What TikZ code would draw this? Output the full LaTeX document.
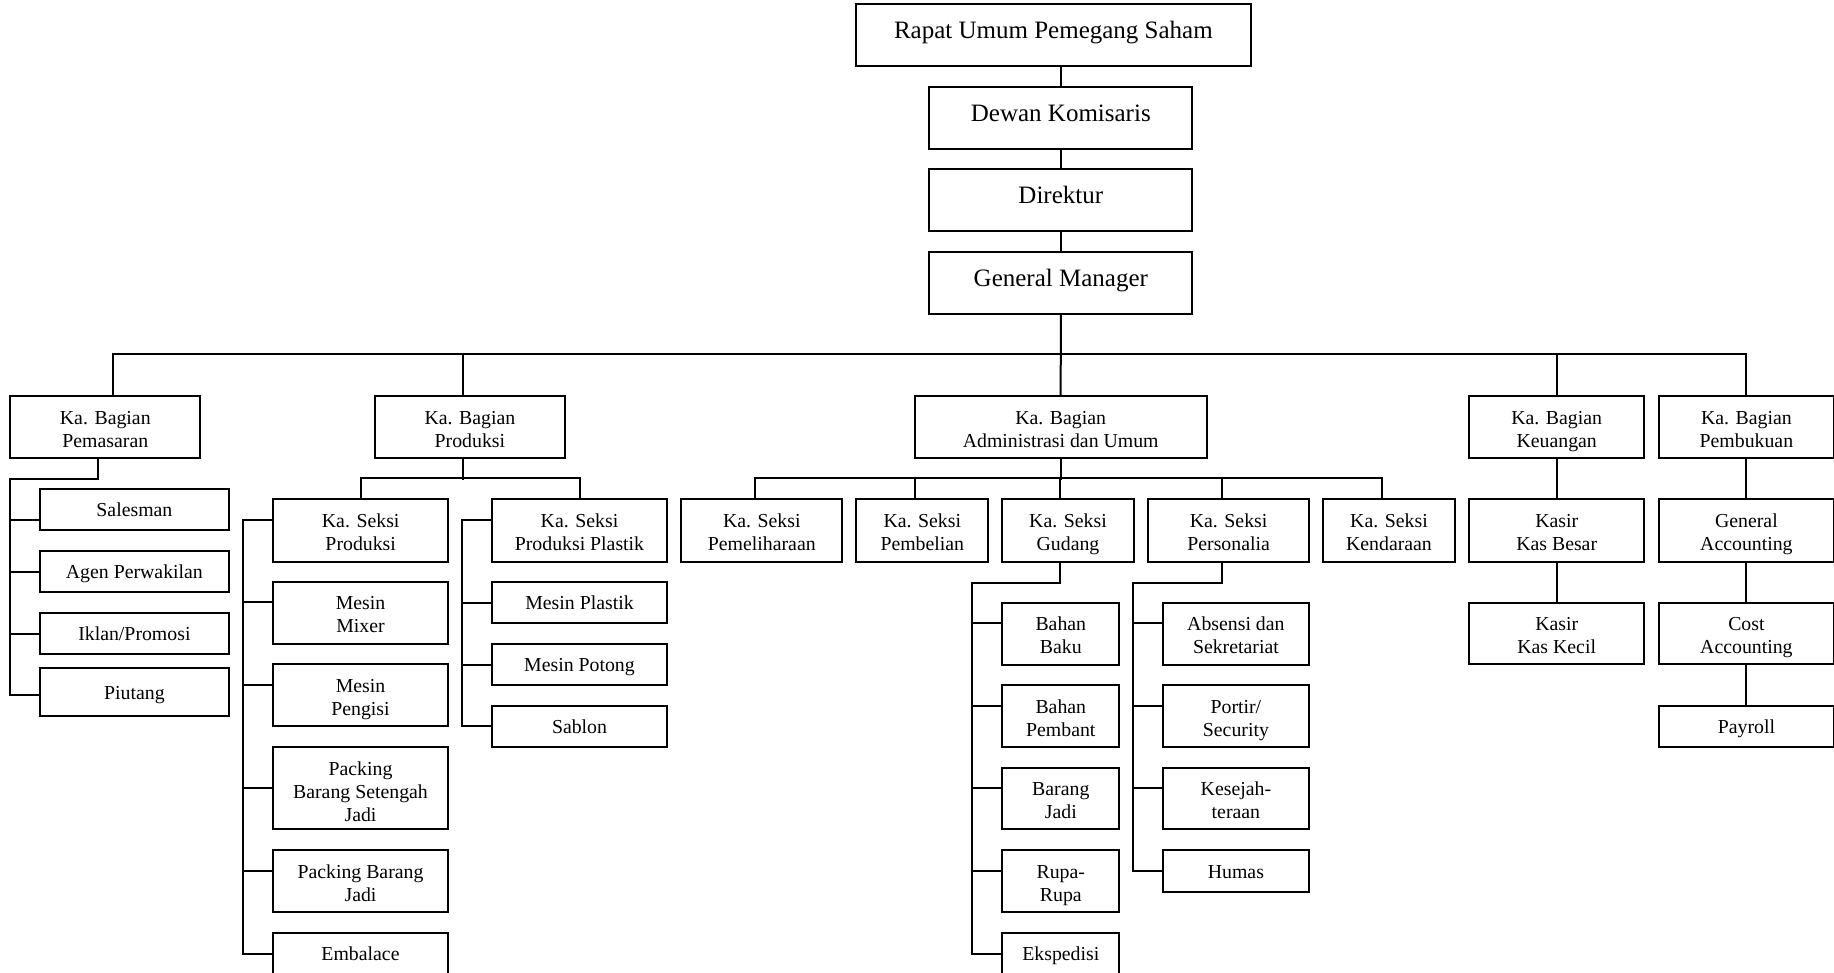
\documentclass[tikz,border=0pt]{standalone}
\usepackage{fontspec}
\setmainfont{Liberation Serif}
\newcommand{\ml}[1]{\vbox{\halign{\hfil##\hfil\cr#1\crcr}}}
\begin{document}
\begin{tikzpicture}[x=1pt,y=-1pt,
  box/.style={draw, line width=2pt, inner sep=0pt,
    font=\fontsize{19.8}{23}\selectfont, text height=19pt, text depth=4.5pt},
  l2/.style={text height=44.5pt, text depth=4.5pt},
  l3/.style={text height=72pt, text depth=4.5pt},
  topbox/.style={draw, line width=2pt, inner sep=0pt,
    font=\fontsize{25}{29}\selectfont, text height=19.5pt, text depth=12pt},
  conn/.style={line width=2pt, line cap=rect}]
\useasboundingbox (0,0) rectangle (1834,973);

% top chain
\node[topbox, minimum width=394.7, minimum height=62] (R) at (1053.4,35) {Rapat Umum Pemegang Saham};
\node[topbox, minimum width=263, minimum height=62] (Dw) at (1060.8,117.7) {Dewan Komisaris};
\node[topbox, minimum width=263, minimum height=62] (Dir) at (1060.8,200.2) {Direktur};
\node[topbox, minimum width=263, minimum height=62] (GM) at (1060.8,282.7) {General Manager};

% level 2
\node[box, l2, minimum width=190, minimum height=62.3] (Pem) at (105.3,427.2) {\ml{Ka. Bagian\cr Pemasaran}};
\node[box, l2, minimum width=189.7, minimum height=62.3] (Prod) at (469.9,427.2) {\ml{Ka. Bagian\cr Produksi}};
\node[box, l2, minimum width=292.4, minimum height=62.3] (Adm) at (1060.7,427.2) {\ml{Ka. Bagian\cr Administrasi dan Umum}};
\node[box, l2, minimum width=175.3, minimum height=62.3] (Keu) at (1556.7,427.2) {\ml{Ka. Bagian\cr Keuangan}};
\node[box, l2, minimum width=174.6, minimum height=62.3] (Pbk) at (1746.4,427.2) {\ml{Ka. Bagian\cr Pembukuan}};

% Pemasaran children
\node[box, minimum width=189.8, minimum height=41.6] (Sal) at (134.4,509.5) {Salesman};
\node[box, minimum width=189.8, minimum height=41.3] (Agn) at (134.4,571.7) {Agen Perwakilan};
\node[box, minimum width=189.8, minimum height=41.6] (Ikl) at (134.4,633.5) {Iklan/Promosi};
\node[box, minimum width=189.8, minimum height=48.3] (Piu) at (134.4,691.9) {Piutang};

% Produksi
\node[box, l2, minimum width=175, minimum height=62.4] (KSP) at (360.7,530.5) {\ml{Ka. Seksi\cr Produksi}};
\node[box, l2, minimum width=175.9, minimum height=62.4] (KSPP) at (579.5,530.5) {\ml{Ka. Seksi\cr Produksi Plastik}};
\node[box, l2, minimum width=175.4, minimum height=62.3] (Mix) at (360.5,612.9) {\ml{Mesin\cr Mixer}};
\node[box, l2, minimum width=175.4, minimum height=61.7] (Pen) at (360.5,695.2) {\ml{Mesin\cr Pengisi}};
\node[box, l3, minimum width=175.4, minimum height=82.3] (PBSJ) at (360.5,788.2) {\ml{Packing\cr Barang Setengah\cr Jadi}};
\node[box, l2, minimum width=175.4, minimum height=61.7] (PBJ) at (360.5,881.2) {\ml{Packing Barang\cr Jadi}};
\node[box, minimum width=175.4, minimum height=41.6] (Emb) at (360.5,953.5) {Embalace};
\node[box, minimum width=175.9, minimum height=41.6] (MPl) at (579.5,602.5) {Mesin Plastik};
\node[box, minimum width=175.9, minimum height=41.3] (MPo) at (579.5,664.7) {Mesin Potong};
\node[box, minimum width=175.9, minimum height=41.3] (Sab) at (579.5,726.3) {Sablon};

% Administrasi
\node[box, l2, minimum width=160.7, minimum height=62.4] (Pml) at (761.8,530.5) {\ml{Ka. Seksi\cr Pemeliharaan}};
\node[box, l2, minimum width=131.7, minimum height=62.4] (Pbl) at (922.3,530.5) {\ml{Ka. Seksi\cr Pembelian}};
\node[box, l2, minimum width=131.3, minimum height=62.4] (Gdg) at (1068,530.5) {\ml{Ka. Seksi\cr Gudang}};
\node[box, l2, minimum width=160.3, minimum height=62.4] (Psn) at (1228.6,530.5) {\ml{Ka. Seksi\cr Personalia}};
\node[box, l2, minimum width=131.4, minimum height=62.4] (Kdr) at (1389,530.5) {\ml{Ka. Seksi\cr Kendaraan}};

\node[box, l2, minimum width=117, minimum height=62.3] (Bku) at (1060.8,633.9) {\ml{Bahan\cr Baku}};
\node[box, l2, minimum width=117, minimum height=62] (Bpb) at (1060.8,716) {\ml{Bahan\cr Pembant}};
\node[box, l2, minimum width=117, minimum height=61.6] (Bjd) at (1060.8,798.5) {\ml{Barang\cr Jadi}};
\node[box, l2, minimum width=117, minimum height=61.7] (Rup) at (1060.8,881.2) {\ml{Rupa-\cr Rupa}};
\node[box, minimum width=117, minimum height=41.6] (Eks) at (1060.8,953.5) {Ekspedisi};

\node[box, l2, minimum width=145.9, minimum height=62.3] (Abs) at (1235.9,633.9) {\ml{Absensi dan\cr Sekretariat}};
\node[box, l2, minimum width=145.9, minimum height=62] (Por) at (1235.9,716) {\ml{Portir/\cr Security}};
\node[box, l2, minimum width=145.9, minimum height=61.6] (Kes) at (1235.9,798.5) {\ml{Kesejah-\cr teraan}};
\node[box, minimum width=145.9, minimum height=41.4] (Hum) at (1235.9,871) {Humas};

% Keuangan
\node[box, l2, minimum width=175.3, minimum height=62.4] (KKB) at (1556.7,530.5) {\ml{Kasir\cr Kas Besar}};
\node[box, l2, minimum width=175.3, minimum height=61.6] (KKK) at (1556.7,633.5) {\ml{Kasir\cr Kas Kecil}};

% Pembukuan
\node[box, l2, minimum width=174.6, minimum height=62.4] (GA) at (1746.4,530.5) {\ml{General\cr Accounting}};
\node[box, l2, minimum width=174.6, minimum height=61.6] (CA) at (1746.4,633.5) {\ml{Cost\cr Accounting}};
\node[box, minimum width=174.6, minimum height=41] (Pay) at (1746.4,726.5) {Payroll};

% connectors: top chain
\draw[conn] (Dw.north) -- (Dw.north |- R.south);
\draw[conn] (Dir.north) -- (Dw.south);
\draw[conn] (GM.north) -- (Dir.south);
\draw[conn] (GM.south) -- (Adm.north);
% main bus
\draw[conn] ([xshift=7.4pt]Pem.north) -- ++(0,-41) -| (Pbk.north);
\draw[conn] ([xshift=-7.4pt]Prod.north) -- ++(0,-41);
\draw[conn] (Keu.north) -- ++(0,-41);

% Pemasaran
\draw[conn] ([xshift=-7.3pt]Pem.south) -- ++(0,20) -| ([xshift=-28.5pt,yshift=-3.1pt]Piu.west) -- ([yshift=-3.1pt]Piu.west);
\draw[conn] ([yshift=-10.5pt]Sal.west) -- ++(-28.5,0);
\draw[conn] (Agn.west) -- ++(-28.5,0);
\draw[conn] (Ikl.west) -- ++(-28.5,0);

% Produksi
\draw[conn] ([xshift=-7.4pt]Prod.south) -- ++(0,20);
\draw[conn] (KSP.north) -- ++(0,-20.8) -| (KSPP.north);
\draw[conn] ([yshift=10.5pt]KSP.west) -- ++(-29,0) |- (Emb.west);
\draw[conn] ([yshift=11.2pt]Mix.west) -- ++(-29,0);
\draw[conn] ([yshift=10.2pt]Pen.west) -- ++(-29,0);
\draw[conn] (PBSJ.west) -- ++(-29,0);
\draw[conn] ([yshift=10.2pt]PBJ.west) -- ++(-29,0);
\draw[conn] ([yshift=10.5pt]KSPP.west) -- ++(-29,0) |- (Sab.west);
\draw[conn] (MPl.west) -- ++(-29,0);
\draw[conn] (MPo.west) -- ++(-29,0);

% Administrasi
\draw[conn] (Adm.south) -- ++(0,20);
\draw[conn] ([xshift=-7.2pt]Pml.north) -- ++(0,-20.8) -| ([xshift=-7pt]Kdr.north);
\draw[conn] ([xshift=-7.4pt]Pbl.north) -- ++(0,-20.8);
\draw[conn] ([xshift=-7.6pt]Gdg.north) -- ++(0,-20.8);
\draw[conn] ([xshift=-7pt]Psn.north) -- ++(0,-20.8);

\draw[conn] ([xshift=-7.6pt]Gdg.south) -- ++(0,20) -| ([xshift=-29pt]Eks.west) -- (Eks.west);
\draw[conn] ([yshift=10.6pt]Bku.west) -- ++(-29,0);
\draw[conn] ([yshift=10.3pt]Bpb.west) -- ++(-29,0);
\draw[conn] ([yshift=10.2pt]Bjd.west) -- ++(-29,0);
\draw[conn] ([yshift=10.2pt]Rup.west) -- ++(-29,0);

\draw[conn] ([xshift=-7pt]Psn.south) -- ++(0,20) -| ([xshift=-28.9pt]Hum.west) -- (Hum.west);
\draw[conn] ([yshift=10.6pt]Abs.west) -- ++(-28.9,0);
\draw[conn] ([yshift=10.3pt]Por.west) -- ++(-28.9,0);
\draw[conn] ([yshift=10.2pt]Kes.west) -- ++(-28.9,0);

% Keuangan
\draw[conn] (Keu.south) -- (KKB.north);
\draw[conn] (KKB.south) -- (KKK.north);

% Pembukuan
\draw[conn] (Pbk.south) -- (GA.north);
\draw[conn] (GA.south) -- (CA.north);
\draw[conn] (CA.south) -- (Pay.north);
\end{tikzpicture}
\end{document}
